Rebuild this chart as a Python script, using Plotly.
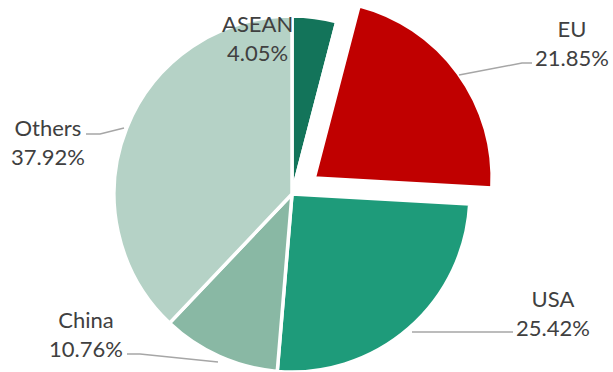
import math
import plotly.graph_objects as go

# Share of total by partner (percent), drawn clockwise from 12 o'clock
labels = ["ASEAN", "EU", "USA", "China", "Others"]
shares = [4.05, 21.85, 25.42, 10.76, 37.92]
colors = ["#13745A", "#C00000", "#1E9B7A", "#89B8A4", "#B5D2C6"]
exploded = "EU"

W, H = 613, 372
CX, CY, R = 292, 194, 178      # pie centre and radius in pixels
PULL = 0.155                   # explode distance as a fraction of the radius
BORDER = 3.5

def dom(cx, cy, r):
    """Square pie domain (paper fractions) centred at pixel (cx, cy)."""
    return dict(x=[(cx - r) / W, (cx + r) / W],
                y=[max(0.0, 1 - (cy + r) / H), min(1.0, 1 - (cy - r) / H)])

# centre of the exploded wedge, moved along its bisector
total = sum(shares)
k = labels.index(exploded)
mid = (sum(shares[:k]) + shares[k] / 2) / total * 2 * math.pi
ecx = CX + PULL * R * math.sin(mid)
ecy = CY - PULL * R * math.cos(mid)

fig = go.Figure()

base_colors = [("rgba(0,0,0,0)" if l == exploded else c) for l, c in zip(labels, colors)]
fig.add_trace(go.Pie(
    labels=labels, values=shares, sort=False, direction="clockwise", rotation=0,
    marker=dict(colors=base_colors, line=dict(color="white", width=BORDER)),
    textinfo="none", hoverinfo="skip", showlegend=False,
    domain=dom(CX, CY, R),
))

top_colors = [(c if l == exploded else "rgba(0,0,0,0)") for l, c in zip(labels, colors)]
top_lines = [("white" if l == exploded else "rgba(0,0,0,0)") for l in labels]
fig.add_trace(go.Pie(
    labels=labels, values=shares, sort=False, direction="clockwise", rotation=0,
    marker=dict(colors=top_colors, line=dict(color=top_lines, width=BORDER)),
    textinfo="none", hoverinfo="skip", showlegend=False,
    domain=dom(ecx, ecy, R),
))

# label block centres (pixels) and leader lines
label_pos = {
    "ASEAN": (257, 38),
    "EU": (572, 43),
    "USA": (553, 313),
    "China": (86, 334),
    "Others": (48, 142),
}
leaders = [
    [(459, 75), (522, 63), (532, 63)],
    [(86, 134), (100, 134), (124, 128)],
    [(127, 354), (140, 354), (218, 362)],
    [(412, 332), (513, 332)],
]

for lab, val in zip(labels, shares):
    px, py = label_pos[lab]
    fig.add_annotation(
        x=px / W, y=1 - py / H, xref="paper", yref="paper",
        xanchor="center", yanchor="middle", showarrow=False,
        text=f"{lab}<br>{val:.2f}%", align="center",
        font=dict(family="Lato", size=22, color="#404040"),
    )

for pts in leaders:
    path = "M " + " L ".join(f"{x / W:.5f},{1 - y / H:.5f}" for x, y in pts)
    fig.add_shape(type="path", path=path, xref="paper", yref="paper",
                  line=dict(color="#A6A6A6", width=1.5))

fig.update_layout(
    width=W, height=H,
    margin=dict(l=0, r=0, t=0, b=0),
    paper_bgcolor="white", plot_bgcolor="white",
)

fig.write_html("out.html")
